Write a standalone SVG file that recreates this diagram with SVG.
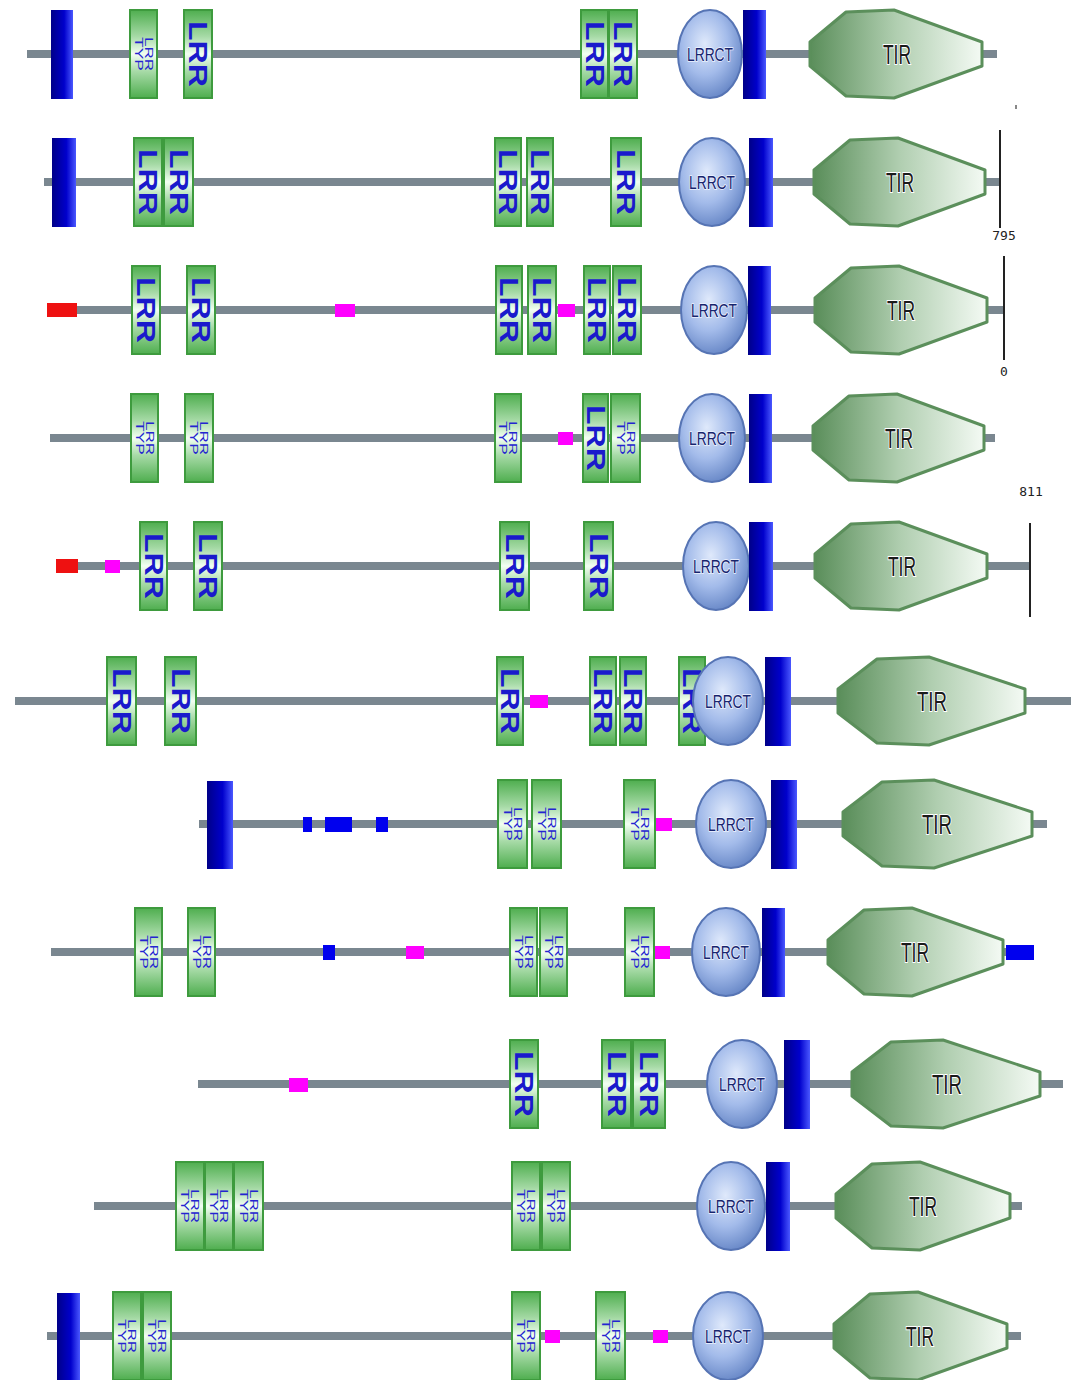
<svg xmlns="http://www.w3.org/2000/svg" width="1077" height="1380" viewBox="0 0 1077 1380">
<defs>
<linearGradient id="gTM" x1="0" y1="0" x2="1" y2="0"><stop offset="0" stop-color="#000088"/><stop offset="0.6" stop-color="#0000cc"/><stop offset="1" stop-color="#4a58ff"/></linearGradient>
<linearGradient id="gLRR" x1="0" y1="0" x2="0" y2="1"><stop offset="0" stop-color="#4fae4f"/><stop offset="0.3" stop-color="#a6daa6"/><stop offset="0.5" stop-color="#f2fff2"/><stop offset="0.7" stop-color="#a6daa6"/><stop offset="1" stop-color="#4fae4f"/></linearGradient>
<radialGradient id="gCT" cx="0.42" cy="0.38" r="0.65"><stop offset="0" stop-color="#dfe9fb"/><stop offset="0.55" stop-color="#a3bbea"/><stop offset="1" stop-color="#6686c6"/></radialGradient>
<linearGradient id="gTIR" x1="0" y1="0" x2="1" y2="0"><stop offset="0" stop-color="#5a8e5a"/><stop offset="0.5" stop-color="#b0ceb0"/><stop offset="1" stop-color="#f4faf4"/></linearGradient>
<style>
.bb{stroke:#7a8790;stroke-width:8;fill:none}
.tm{fill:url(#gTM)}
.lrr rect{fill:url(#gLRR);stroke:#3e9b3e;stroke-width:2}
.lrr text{font-family:"Liberation Sans",Arial,sans-serif;font-weight:bold;font-size:25px;fill:#1a1acc;text-anchor:middle;dominant-baseline:central}
.typ text{font-family:"Liberation Sans",Arial,sans-serif;font-weight:normal;font-size:11px;fill:#2424d0;text-anchor:middle;dominant-baseline:auto}
.ct ellipse{fill:url(#gCT);stroke:#5674b4;stroke-width:2}
.ct text{font-family:"Liberation Sans Narrow","Liberation Sans",Arial,sans-serif;font-size:19px;fill:#17256e;text-anchor:middle;dominant-baseline:central;stroke:#eef3ff;stroke-width:1.5;paint-order:stroke}
.tir polygon{fill:url(#gTIR);stroke:#5b8f5b;stroke-width:3;stroke-linejoin:round}
.tir text{font-family:"Liberation Sans Narrow","Liberation Sans",Arial,sans-serif;font-size:28px;fill:#1a1a1a;text-anchor:middle;dominant-baseline:central;stroke:#ffffff;stroke-width:2;paint-order:stroke}
.red{fill:#ee1111}
.pink{fill:#ff00ff}
.blu{fill:#0000ee}
.scale{stroke:#222;stroke-width:2}
.num{font-family:"DejaVu Sans Mono","Liberation Mono",monospace;font-size:13px;fill:#222;text-anchor:middle}
</style>
</defs>
<rect width="1077" height="1380" fill="#ffffff"/>
<g id="connectors">
<line class="bb" x1="27" y1="54" x2="997" y2="54"/>
<line class="bb" x1="44" y1="182" x2="1000" y2="182"/>
<line class="bb" x1="47" y1="310" x2="1004" y2="310"/>
<line class="bb" x1="50" y1="438" x2="995" y2="438"/>
<line class="bb" x1="56" y1="566" x2="1030" y2="566"/>
<line class="bb" x1="15" y1="701" x2="1071" y2="701"/>
<line class="bb" x1="199" y1="824" x2="1047" y2="824"/>
<line class="bb" x1="51" y1="952" x2="1006" y2="952"/>
<line class="bb" x1="198" y1="1084" x2="1063" y2="1084"/>
<line class="bb" x1="94" y1="1206" x2="1022" y2="1206"/>
<line class="bb" x1="47" y1="1336" x2="1021" y2="1336"/>
</g>

<!-- Row 1 -->
<g id="r1">
<g id="r1-tm1"><rect class="tm" x="51" y="10" width="22" height="89"/></g>
<g id="r1-typ1" class="lrr typ"><rect x="130" y="10" width="27" height="88"/><text transform="translate(143.5,54) rotate(90)" y="-1" textLength="34" lengthAdjust="spacingAndGlyphs">LRR</text><text transform="translate(143.5,54) rotate(90)" y="9" textLength="34" lengthAdjust="spacingAndGlyphs">TYP</text></g>
<g id="r1-lrr1" class="lrr"><rect x="184" y="10" width="28" height="88"/><text transform="translate(198,54) rotate(90)" textLength="66" lengthAdjust="spacingAndGlyphs">LRR</text></g>
<g id="r1-lrr2" class="lrr"><rect x="581" y="10" width="27" height="88"/><text transform="translate(594.5,54) rotate(90)" textLength="66" lengthAdjust="spacingAndGlyphs">LRR</text></g>
<g id="r1-lrr3" class="lrr"><rect x="609" y="10" width="28" height="88"/><text transform="translate(623,54) rotate(90)" textLength="66" lengthAdjust="spacingAndGlyphs">LRR</text></g>
<g id="r1-ct" class="ct"><ellipse cx="710" cy="54" rx="32" ry="44"/><text x="710" y="54" textLength="46" lengthAdjust="spacingAndGlyphs">LRRCT</text></g>
<g id="r1-tm2"><rect class="tm" x="743" y="10" width="23" height="89"/></g>
<g id="r1-tir" class="tir"><polygon points="810,42 846,12 894,10 982,42 982,66 894,98 846,96 810,66"/><text x="897" y="54" textLength="28" lengthAdjust="spacingAndGlyphs">TIR</text></g>
<g id="r1-mark"><rect x="1015" y="105" width="2" height="4" fill="#888"/></g>
</g>

<!-- Row 2 -->
<g id="r2">
<g id="r2-tm1"><rect class="tm" x="52" y="138" width="24" height="89"/></g>
<g id="r2-lrr1" class="lrr"><rect x="134" y="138" width="28" height="88"/><text transform="translate(148,182) rotate(90)" textLength="66" lengthAdjust="spacingAndGlyphs">LRR</text></g>
<g id="r2-lrr2" class="lrr"><rect x="164" y="138" width="29" height="88"/><text transform="translate(178.5,182) rotate(90)" textLength="66" lengthAdjust="spacingAndGlyphs">LRR</text></g>
<g id="r2-lrr3" class="lrr"><rect x="495" y="138" width="26" height="88"/><text transform="translate(508,182) rotate(90)" textLength="66" lengthAdjust="spacingAndGlyphs">LRR</text></g>
<g id="r2-lrr4" class="lrr"><rect x="527" y="138" width="26" height="88"/><text transform="translate(540,182) rotate(90)" textLength="66" lengthAdjust="spacingAndGlyphs">LRR</text></g>
<g id="r2-lrr5" class="lrr"><rect x="611" y="138" width="30" height="88"/><text transform="translate(626,182) rotate(90)" textLength="66" lengthAdjust="spacingAndGlyphs">LRR</text></g>
<g id="r2-ct" class="ct"><ellipse cx="712" cy="182" rx="33" ry="44"/><text x="712" y="182" textLength="46" lengthAdjust="spacingAndGlyphs">LRRCT</text></g>
<g id="r2-tm2"><rect class="tm" x="749" y="138" width="24" height="89"/></g>
<g id="r2-tir" class="tir"><polygon points="814,170 850,140 898,138 985,170 985,194 898,226 850,224 814,194"/><text x="900" y="182" textLength="28" lengthAdjust="spacingAndGlyphs">TIR</text></g>
<g id="r2-scale"><line class="scale" x1="1000" y1="130" x2="1000" y2="228"/><text class="num" x="1004" y="240">795</text></g>
</g>

<!-- Row 3 -->
<g id="r3">
<g id="r3-red"><rect class="red" x="47" y="303" width="30" height="14"/></g>
<g id="r3-lrr1" class="lrr"><rect x="132" y="266" width="28" height="88"/><text transform="translate(146,310) rotate(90)" textLength="66" lengthAdjust="spacingAndGlyphs">LRR</text></g>
<g id="r3-lrr2" class="lrr"><rect x="187" y="266" width="28" height="88"/><text transform="translate(201,310) rotate(90)" textLength="66" lengthAdjust="spacingAndGlyphs">LRR</text></g>
<g id="r3-p1"><rect class="pink" x="335" y="304" width="20" height="13"/></g>
<g id="r3-lrr3" class="lrr"><rect x="496" y="266" width="26" height="88"/><text transform="translate(509,310) rotate(90)" textLength="66" lengthAdjust="spacingAndGlyphs">LRR</text></g>
<g id="r3-lrr4" class="lrr"><rect x="528" y="266" width="28" height="88"/><text transform="translate(542,310) rotate(90)" textLength="66" lengthAdjust="spacingAndGlyphs">LRR</text></g>
<g id="r3-p2"><rect class="pink" x="558" y="304" width="17" height="13"/></g>
<g id="r3-lrr5" class="lrr"><rect x="584" y="266" width="26" height="88"/><text transform="translate(597,310) rotate(90)" textLength="66" lengthAdjust="spacingAndGlyphs">LRR</text></g>
<g id="r3-lrr6" class="lrr"><rect x="613" y="266" width="28" height="88"/><text transform="translate(627,310) rotate(90)" textLength="66" lengthAdjust="spacingAndGlyphs">LRR</text></g>
<g id="r3-ct" class="ct"><ellipse cx="714" cy="310" rx="33" ry="44"/><text x="714" y="310" textLength="46" lengthAdjust="spacingAndGlyphs">LRRCT</text></g>
<g id="r3-tm"><rect class="tm" x="748" y="266" width="23" height="89"/></g>
<g id="r3-tir" class="tir"><polygon points="815,298 851,268 899,266 987,298 987,322 899,354 851,352 815,322"/><text x="901" y="310" textLength="28" lengthAdjust="spacingAndGlyphs">TIR</text></g>
<g id="r3-scale"><line class="scale" x1="1004" y1="256" x2="1004" y2="360"/><text class="num" x="1004" y="376">0</text></g>
</g>

<!-- Row 4 -->
<g id="r4">
<g id="r4-typ1" class="lrr typ"><rect x="131" y="394" width="27" height="88"/><text transform="translate(144.5,438) rotate(90)" y="-1" textLength="34" lengthAdjust="spacingAndGlyphs">LRR</text><text transform="translate(144.5,438) rotate(90)" y="9" textLength="34" lengthAdjust="spacingAndGlyphs">TYP</text></g>
<g id="r4-typ2" class="lrr typ"><rect x="185" y="394" width="28" height="88"/><text transform="translate(199,438) rotate(90)" y="-1" textLength="34" lengthAdjust="spacingAndGlyphs">LRR</text><text transform="translate(199,438) rotate(90)" y="9" textLength="34" lengthAdjust="spacingAndGlyphs">TYP</text></g>
<g id="r4-typ3" class="lrr typ"><rect x="495" y="394" width="26" height="88"/><text transform="translate(508,438) rotate(90)" y="-1" textLength="34" lengthAdjust="spacingAndGlyphs">LRR</text><text transform="translate(508,438) rotate(90)" y="9" textLength="34" lengthAdjust="spacingAndGlyphs">TYP</text></g>
<g id="r4-p1"><rect class="pink" x="558" y="432" width="15" height="13"/></g>
<g id="r4-lrr1" class="lrr"><rect x="583" y="394" width="25" height="88"/><text transform="translate(595.5,438) rotate(90)" textLength="66" lengthAdjust="spacingAndGlyphs">LRR</text></g>
<g id="r4-typ4" class="lrr typ"><rect x="611" y="394" width="29" height="88"/><text transform="translate(625.5,438) rotate(90)" y="-1" textLength="34" lengthAdjust="spacingAndGlyphs">LRR</text><text transform="translate(625.5,438) rotate(90)" y="9" textLength="34" lengthAdjust="spacingAndGlyphs">TYP</text></g>
<g id="r4-ct" class="ct"><ellipse cx="712" cy="438" rx="33" ry="44"/><text x="712" y="438" textLength="46" lengthAdjust="spacingAndGlyphs">LRRCT</text></g>
<g id="r4-tm"><rect class="tm" x="749" y="394" width="23" height="89"/></g>
<g id="r4-tir" class="tir"><polygon points="813,426 849,396 897,394 984,426 984,450 897,482 849,480 813,450"/><text x="899" y="438" textLength="28" lengthAdjust="spacingAndGlyphs">TIR</text></g>
</g>

<!-- Row 5 -->
<g id="r5">
<g id="r5-red"><rect class="red" x="56" y="559" width="22" height="14"/></g>
<g id="r5-p1"><rect class="pink" x="105" y="560" width="15" height="13"/></g>
<g id="r5-lrr1" class="lrr"><rect x="140" y="522" width="27" height="88"/><text transform="translate(153.5,566) rotate(90)" textLength="66" lengthAdjust="spacingAndGlyphs">LRR</text></g>
<g id="r5-lrr2" class="lrr"><rect x="194" y="522" width="28" height="88"/><text transform="translate(208,566) rotate(90)" textLength="66" lengthAdjust="spacingAndGlyphs">LRR</text></g>
<g id="r5-lrr3" class="lrr"><rect x="500" y="522" width="29" height="88"/><text transform="translate(514.5,566) rotate(90)" textLength="66" lengthAdjust="spacingAndGlyphs">LRR</text></g>
<g id="r5-lrr4" class="lrr"><rect x="584" y="522" width="29" height="88"/><text transform="translate(598.5,566) rotate(90)" textLength="66" lengthAdjust="spacingAndGlyphs">LRR</text></g>
<g id="r5-ct" class="ct"><ellipse cx="716" cy="566" rx="33" ry="44"/><text x="716" y="566" textLength="46" lengthAdjust="spacingAndGlyphs">LRRCT</text></g>
<g id="r5-tm"><rect class="tm" x="749" y="522" width="24" height="89"/></g>
<g id="r5-tir" class="tir"><polygon points="815,554 851,524 899,522 987,554 987,578 899,610 851,608 815,578"/><text x="902" y="566" textLength="28" lengthAdjust="spacingAndGlyphs">TIR</text></g>
<g id="r5-scale"><line class="scale" x1="1030" y1="523" x2="1030" y2="617"/><text class="num" x="1031" y="496">811</text></g>
</g>

<!-- Row 6 -->
<g id="r6">
<g id="r6-lrr1" class="lrr"><rect x="107" y="657" width="29" height="88"/><text transform="translate(121.5,701) rotate(90)" textLength="66" lengthAdjust="spacingAndGlyphs">LRR</text></g>
<g id="r6-lrr2" class="lrr"><rect x="165" y="657" width="31" height="88"/><text transform="translate(180.5,701) rotate(90)" textLength="66" lengthAdjust="spacingAndGlyphs">LRR</text></g>
<g id="r6-lrr3" class="lrr"><rect x="497" y="657" width="26" height="88"/><text transform="translate(510,701) rotate(90)" textLength="66" lengthAdjust="spacingAndGlyphs">LRR</text></g>
<g id="r6-p1"><rect class="pink" x="530" y="695" width="18" height="13"/></g>
<g id="r6-lrr4" class="lrr"><rect x="590" y="657" width="26" height="88"/><text transform="translate(603,701) rotate(90)" textLength="66" lengthAdjust="spacingAndGlyphs">LRR</text></g>
<g id="r6-lrr5" class="lrr"><rect x="620" y="657" width="26" height="88"/><text transform="translate(633,701) rotate(90)" textLength="66" lengthAdjust="spacingAndGlyphs">LRR</text></g>
<g id="r6-lrr6" class="lrr"><rect x="679" y="657" width="26" height="88"/><text transform="translate(692,701) rotate(90)" textLength="66" lengthAdjust="spacingAndGlyphs">LRR</text></g>
<g id="r6-ct" class="ct"><ellipse cx="728" cy="701" rx="35" ry="44"/><text x="728" y="701" textLength="46" lengthAdjust="spacingAndGlyphs">LRRCT</text></g>
<g id="r6-tm"><rect class="tm" x="765" y="657" width="26" height="89"/></g>
<g id="r6-tir" class="tir"><polygon points="838,689 877,659 929,657 1025,689 1025,713 929,745 877,743 838,713"/><text x="932" y="701" textLength="30" lengthAdjust="spacingAndGlyphs">TIR</text></g>
</g>

<!-- Row 7 -->
<g id="r7">
<g id="r7-tm1"><rect class="tm" x="207" y="781" width="26" height="88"/></g>
<g id="r7-b1"><rect class="blu" x="303" y="817" width="9" height="15"/></g>
<g id="r7-b2"><rect class="blu" x="325" y="817" width="27" height="15"/></g>
<g id="r7-b3"><rect class="blu" x="376" y="817" width="12" height="15"/></g>
<g id="r7-typ1" class="lrr typ"><rect x="498" y="780" width="29" height="88"/><text transform="translate(512.5,824) rotate(90)" y="-1" textLength="34" lengthAdjust="spacingAndGlyphs">LRR</text><text transform="translate(512.5,824) rotate(90)" y="9" textLength="34" lengthAdjust="spacingAndGlyphs">TYP</text></g>
<g id="r7-typ2" class="lrr typ"><rect x="532" y="780" width="29" height="88"/><text transform="translate(546.5,824) rotate(90)" y="-1" textLength="34" lengthAdjust="spacingAndGlyphs">LRR</text><text transform="translate(546.5,824) rotate(90)" y="9" textLength="34" lengthAdjust="spacingAndGlyphs">TYP</text></g>
<g id="r7-typ3" class="lrr typ"><rect x="624" y="780" width="31" height="88"/><text transform="translate(639.5,824) rotate(90)" y="-1" textLength="34" lengthAdjust="spacingAndGlyphs">LRR</text><text transform="translate(639.5,824) rotate(90)" y="9" textLength="34" lengthAdjust="spacingAndGlyphs">TYP</text></g>
<g id="r7-p1"><rect class="pink" x="656" y="818" width="16" height="13"/></g>
<g id="r7-ct" class="ct"><ellipse cx="731" cy="824" rx="35" ry="44"/><text x="731" y="824" textLength="46" lengthAdjust="spacingAndGlyphs">LRRCT</text></g>
<g id="r7-tm2"><rect class="tm" x="771" y="780" width="26" height="89"/></g>
<g id="r7-tir" class="tir"><polygon points="843,812 882,782 934,780 1032,812 1032,836 934,868 882,866 843,836"/><text x="937" y="824" textLength="30" lengthAdjust="spacingAndGlyphs">TIR</text></g>
</g>

<!-- Row 8 -->
<g id="r8">
<g id="r8-typ1" class="lrr typ"><rect x="135" y="908" width="27" height="88"/><text transform="translate(148.5,952) rotate(90)" y="-1" textLength="34" lengthAdjust="spacingAndGlyphs">LRR</text><text transform="translate(148.5,952) rotate(90)" y="9" textLength="34" lengthAdjust="spacingAndGlyphs">TYP</text></g>
<g id="r8-typ2" class="lrr typ"><rect x="188" y="908" width="27" height="88"/><text transform="translate(201.5,952) rotate(90)" y="-1" textLength="34" lengthAdjust="spacingAndGlyphs">LRR</text><text transform="translate(201.5,952) rotate(90)" y="9" textLength="34" lengthAdjust="spacingAndGlyphs">TYP</text></g>
<g id="r8-b1"><rect class="blu" x="323" y="945" width="12" height="15"/></g>
<g id="r8-p1"><rect class="pink" x="406" y="946" width="18" height="13"/></g>
<g id="r8-typ3" class="lrr typ"><rect x="510" y="908" width="27" height="88"/><text transform="translate(523.5,952) rotate(90)" y="-1" textLength="34" lengthAdjust="spacingAndGlyphs">LRR</text><text transform="translate(523.5,952) rotate(90)" y="9" textLength="34" lengthAdjust="spacingAndGlyphs">TYP</text></g>
<g id="r8-typ4" class="lrr typ"><rect x="540" y="908" width="27" height="88"/><text transform="translate(553.5,952) rotate(90)" y="-1" textLength="34" lengthAdjust="spacingAndGlyphs">LRR</text><text transform="translate(553.5,952) rotate(90)" y="9" textLength="34" lengthAdjust="spacingAndGlyphs">TYP</text></g>
<g id="r8-typ5" class="lrr typ"><rect x="625" y="908" width="29" height="88"/><text transform="translate(639.5,952) rotate(90)" y="-1" textLength="34" lengthAdjust="spacingAndGlyphs">LRR</text><text transform="translate(639.5,952) rotate(90)" y="9" textLength="34" lengthAdjust="spacingAndGlyphs">TYP</text></g>
<g id="r8-p2"><rect class="pink" x="655" y="946" width="15" height="13"/></g>
<g id="r8-ct" class="ct"><ellipse cx="726" cy="952" rx="34" ry="44"/><text x="726" y="952" textLength="46" lengthAdjust="spacingAndGlyphs">LRRCT</text></g>
<g id="r8-tm"><rect class="tm" x="762" y="908" width="23" height="89"/></g>
<g id="r8-tir" class="tir"><polygon points="828,940 864,910 912,908 1003,940 1003,964 912,996 864,994 828,964"/><text x="915" y="952" textLength="28" lengthAdjust="spacingAndGlyphs">TIR</text></g>
<g id="r8-b2"><rect class="blu" x="1006" y="945" width="28" height="15"/></g>
</g>

<!-- Row 9 -->
<g id="r9">
<g id="r9-p1"><rect class="pink" x="289" y="1078" width="19" height="14"/></g>
<g id="r9-lrr1" class="lrr"><rect x="510" y="1040" width="28" height="88"/><text transform="translate(524,1084) rotate(90)" textLength="66" lengthAdjust="spacingAndGlyphs">LRR</text></g>
<g id="r9-lrr2" class="lrr"><rect x="602" y="1040" width="29" height="88"/><text transform="translate(616.5,1084) rotate(90)" textLength="66" lengthAdjust="spacingAndGlyphs">LRR</text></g>
<g id="r9-lrr3" class="lrr"><rect x="633" y="1040" width="32" height="88"/><text transform="translate(649,1084) rotate(90)" textLength="66" lengthAdjust="spacingAndGlyphs">LRR</text></g>
<g id="r9-ct" class="ct"><ellipse cx="742" cy="1084" rx="35" ry="44"/><text x="742" y="1084" textLength="46" lengthAdjust="spacingAndGlyphs">LRRCT</text></g>
<g id="r9-tm"><rect class="tm" x="784" y="1040" width="26" height="89"/></g>
<g id="r9-tir" class="tir"><polygon points="852,1072 891,1042 943,1040 1040,1072 1040,1096 943,1128 891,1126 852,1096"/><text x="947" y="1084" textLength="30" lengthAdjust="spacingAndGlyphs">TIR</text></g>
</g>

<!-- Row 10 -->
<g id="r10">
<g id="r10-typ1" class="lrr typ"><rect x="176" y="1162" width="28" height="88"/><text transform="translate(190,1206) rotate(90)" y="-1" textLength="34" lengthAdjust="spacingAndGlyphs">LRR</text><text transform="translate(190,1206) rotate(90)" y="9" textLength="34" lengthAdjust="spacingAndGlyphs">TYP</text></g>
<g id="r10-typ2" class="lrr typ"><rect x="205" y="1162" width="28" height="88"/><text transform="translate(219,1206) rotate(90)" y="-1" textLength="34" lengthAdjust="spacingAndGlyphs">LRR</text><text transform="translate(219,1206) rotate(90)" y="9" textLength="34" lengthAdjust="spacingAndGlyphs">TYP</text></g>
<g id="r10-typ3" class="lrr typ"><rect x="234" y="1162" width="29" height="88"/><text transform="translate(248.5,1206) rotate(90)" y="-1" textLength="34" lengthAdjust="spacingAndGlyphs">LRR</text><text transform="translate(248.5,1206) rotate(90)" y="9" textLength="34" lengthAdjust="spacingAndGlyphs">TYP</text></g>
<g id="r10-typ4" class="lrr typ"><rect x="512" y="1162" width="28" height="88"/><text transform="translate(526,1206) rotate(90)" y="-1" textLength="34" lengthAdjust="spacingAndGlyphs">LRR</text><text transform="translate(526,1206) rotate(90)" y="9" textLength="34" lengthAdjust="spacingAndGlyphs">TYP</text></g>
<g id="r10-typ5" class="lrr typ"><rect x="542" y="1162" width="28" height="88"/><text transform="translate(556,1206) rotate(90)" y="-1" textLength="34" lengthAdjust="spacingAndGlyphs">LRR</text><text transform="translate(556,1206) rotate(90)" y="9" textLength="34" lengthAdjust="spacingAndGlyphs">TYP</text></g>
<g id="r10-ct" class="ct"><ellipse cx="731" cy="1206" rx="34" ry="44"/><text x="731" y="1206" textLength="46" lengthAdjust="spacingAndGlyphs">LRRCT</text></g>
<g id="r10-tm"><rect class="tm" x="766" y="1162" width="24" height="89"/></g>
<g id="r10-tir" class="tir"><polygon points="836,1194 872,1164 920,1162 1010,1194 1010,1218 920,1250 872,1248 836,1218"/><text x="923" y="1206" textLength="28" lengthAdjust="spacingAndGlyphs">TIR</text></g>
</g>

<!-- Row 11 -->
<g id="r11">
<g id="r11-tm"><rect class="tm" x="57" y="1293" width="23" height="87"/></g>
<g id="r11-typ1" class="lrr typ"><rect x="113" y="1292" width="28" height="88"/><text transform="translate(127,1336) rotate(90)" y="-1" textLength="34" lengthAdjust="spacingAndGlyphs">LRR</text><text transform="translate(127,1336) rotate(90)" y="9" textLength="34" lengthAdjust="spacingAndGlyphs">TYP</text></g>
<g id="r11-typ2" class="lrr typ"><rect x="143" y="1292" width="28" height="88"/><text transform="translate(157,1336) rotate(90)" y="-1" textLength="34" lengthAdjust="spacingAndGlyphs">LRR</text><text transform="translate(157,1336) rotate(90)" y="9" textLength="34" lengthAdjust="spacingAndGlyphs">TYP</text></g>
<g id="r11-typ3" class="lrr typ"><rect x="512" y="1292" width="28" height="88"/><text transform="translate(526,1336) rotate(90)" y="-1" textLength="34" lengthAdjust="spacingAndGlyphs">LRR</text><text transform="translate(526,1336) rotate(90)" y="9" textLength="34" lengthAdjust="spacingAndGlyphs">TYP</text></g>
<g id="r11-p1"><rect class="pink" x="545" y="1330" width="15" height="13"/></g>
<g id="r11-typ4" class="lrr typ"><rect x="596" y="1292" width="29" height="88"/><text transform="translate(610.5,1336) rotate(90)" y="-1" textLength="34" lengthAdjust="spacingAndGlyphs">LRR</text><text transform="translate(610.5,1336) rotate(90)" y="9" textLength="34" lengthAdjust="spacingAndGlyphs">TYP</text></g>
<g id="r11-p2"><rect class="pink" x="653" y="1330" width="15" height="13"/></g>
<g id="r11-ct" class="ct"><ellipse cx="728" cy="1336" rx="35" ry="44"/><text x="728" y="1336" textLength="46" lengthAdjust="spacingAndGlyphs">LRRCT</text></g>
<g id="r11-tir" class="tir"><polygon points="834,1324 870,1294 918,1292 1007,1324 1007,1348 918,1380 870,1378 834,1348"/><text x="920" y="1336" textLength="28" lengthAdjust="spacingAndGlyphs">TIR</text></g>
</g>
</svg>
